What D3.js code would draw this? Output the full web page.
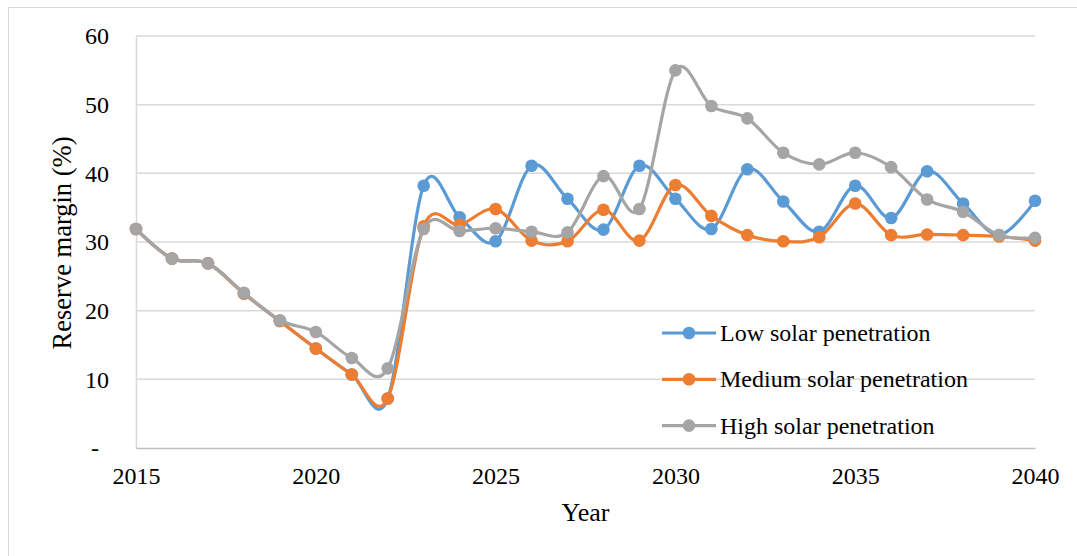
<!DOCTYPE html>
<html>
<head>
<meta charset="utf-8">
<script src="https://cdn.jsdelivr.net/npm/d3@7"></script>
<style>
  html, body { margin: 0; padding: 0; background: #fff; }
  svg { display: block; font-family: "Liberation Serif", "Times New Roman", serif; }
</style>
</head>
<body>
<svg id="chart" width="1077" height="556"></svg>
<script>
const years = d3.range(2015, 2041);
const lowSolar = [31.9, 27.6, 26.9, 22.5, 18.5, 14.5, 10.7, 7.2, 38.2, 33.6, 30.1, 41.1, 36.3, 31.8, 41.1, 36.3, 31.9, 40.6, 35.9, 31.5, 38.2, 33.5, 40.3, 35.6, 31.0, 36.0];
const mediumSolar = [31.9, 27.6, 26.9, 22.5, 18.5, 14.5, 10.7, 7.2, 32.3, 32.5, 34.8, 30.2, 30.1, 34.7, 30.2, 38.3, 33.8, 31.0, 30.1, 30.7, 35.6, 31.0, 31.1, 31.0, 30.8, 30.2];
const highSolar = [31.9, 27.6, 26.9, 22.6, 18.6, 16.9, 13.1, 11.6, 31.9, 31.6, 32.0, 31.5, 31.4, 39.6, 34.8, 55.0, 49.8, 48.0, 43.0, 41.3, 43.0, 40.9, 36.2, 34.4, 31.0, 30.6];
const seriesNames = ['Low solar penetration', 'Medium solar penetration', 'High solar penetration'];
const seriesColors = ['#5B9BD5', '#ED7D31', '#A5A5A5'];
const yTicks = [0, 10, 20, 30, 40, 50, 60];
const xTicks = [2015, 2020, 2025, 2030, 2035, 2040];

const series = [lowSolar, mediumSolar, highSolar].map((vals, i) => ({
  name: seriesNames[i],
  color: seriesColors[i],
  values: vals.map((v, j) => ({ year: years[j], value: v })),
}));

const svg = d3.select('#chart');
const margin = { left: 136, right: 42, top: 36, bottom: 108 };
const width = 1077 - margin.left - margin.right;
const height = 556 - margin.top - margin.bottom;

// outer chart border
svg.append('rect')
  .attr('x', 8.5).attr('y', 7.5)
  .attr('width', 1090).attr('height', 570)
  .attr('fill', 'none')
  .attr('stroke', '#d9d9d9')
  .attr('stroke-width', 1);

const x = d3.scaleLinear().domain([2015, 2040]).range([0, width]);
const y = d3.scaleLinear().domain([0, 60]).range([height, 0]);

const g = svg.append('g').attr('transform', `translate(${margin.left},${margin.top})`);

// gridlines
g.append('g')
  .selectAll('line')
  .data(yTicks.filter((d) => d > 0))
  .join('line')
    .attr('x1', 0).attr('x2', width)
    .attr('y1', (d) => y(d)).attr('y2', (d) => y(d))
    .attr('stroke', '#d9d9d9')
    .attr('stroke-width', 1.5);

// y axis (labels only, plus light axis line)
const yAxis = g.append('g')
  .call(d3.axisLeft(y).tickValues(yTicks).tickSize(0).tickPadding(27)
    .tickFormat((d) => (d === 0 ? '-' : d)));
yAxis.select('.domain').attr('stroke', '#d9d9d9').attr('stroke-width', 1.5);
yAxis.selectAll('text')
  .attr('font-family', '"Liberation Serif", "Times New Roman", serif')
  .attr('font-size', 24)
  .attr('fill', '#000');
yAxis.selectAll('.tick')
  .filter((d) => d === 0)
  .select('text')
  .attr('dx', -10);

// x axis
const xAxis = g.append('g')
  .attr('transform', `translate(0,${height})`)
  .call(d3.axisBottom(x).tickValues(xTicks).tickSize(0).tickPadding(19)
    .tickFormat(d3.format('d')));
xAxis.select('.domain').attr('stroke', '#bfbfbf').attr('stroke-width', 1.5);
xAxis.selectAll('text')
  .attr('font-family', '"Liberation Serif", "Times New Roman", serif')
  .attr('font-size', 24)
  .attr('fill', '#000');

// axis titles
svg.append('text')
  .attr('x', margin.left + width / 2)
  .attr('y', 521)
  .attr('text-anchor', 'middle')
  .attr('font-size', 26)
  .attr('fill', '#000')
  .text('Year');

svg.append('text')
  .attr('transform', 'translate(71,243) rotate(-90)')
  .attr('text-anchor', 'middle')
  .attr('font-size', 26.5)
  .attr('fill', '#000')
  .text('Reserve margin (%)');

// smoothed lines like Excel
const line = d3.line()
  .x((d) => x(d.year))
  .y((d) => y(d.value))
  .curve(d3.curveCardinal.tension(0));

const sg = g.selectAll('.series')
  .data(series)
  .join('g')
    .attr('class', 'series');

sg.append('path')
  .attr('d', (d) => line(d.values))
  .attr('fill', 'none')
  .attr('stroke', (d) => d.color)
  .attr('stroke-width', 3.2)
  .attr('stroke-linejoin', 'round');

sg.selectAll('circle')
  .data((d) => d.values.map((v) => ({ ...v, color: d.color })))
  .join('circle')
    .attr('cx', (d) => x(d.year))
    .attr('cy', (d) => y(d.value))
    .attr('r', 6.3)
    .attr('fill', (d) => d.color);

// legend
const legend = svg.append('g')
  .selectAll('g')
  .data(series)
  .join('g')
    .attr('transform', (d, i) => `translate(662,${333 + i * 46.3})`);

legend.append('line')
  .attr('x1', 0).attr('x2', 54)
  .attr('stroke', (d) => d.color)
  .attr('stroke-width', 3.2);
legend.append('circle')
  .attr('cx', 27)
  .attr('r', 6.3)
  .attr('fill', (d) => d.color);
legend.append('text')
  .attr('x', 58)
  .attr('dy', '0.33em')
  .attr('font-size', 24)
  .attr('fill', '#000')
  .text((d) => d.name);
</script>
</body>
</html>
